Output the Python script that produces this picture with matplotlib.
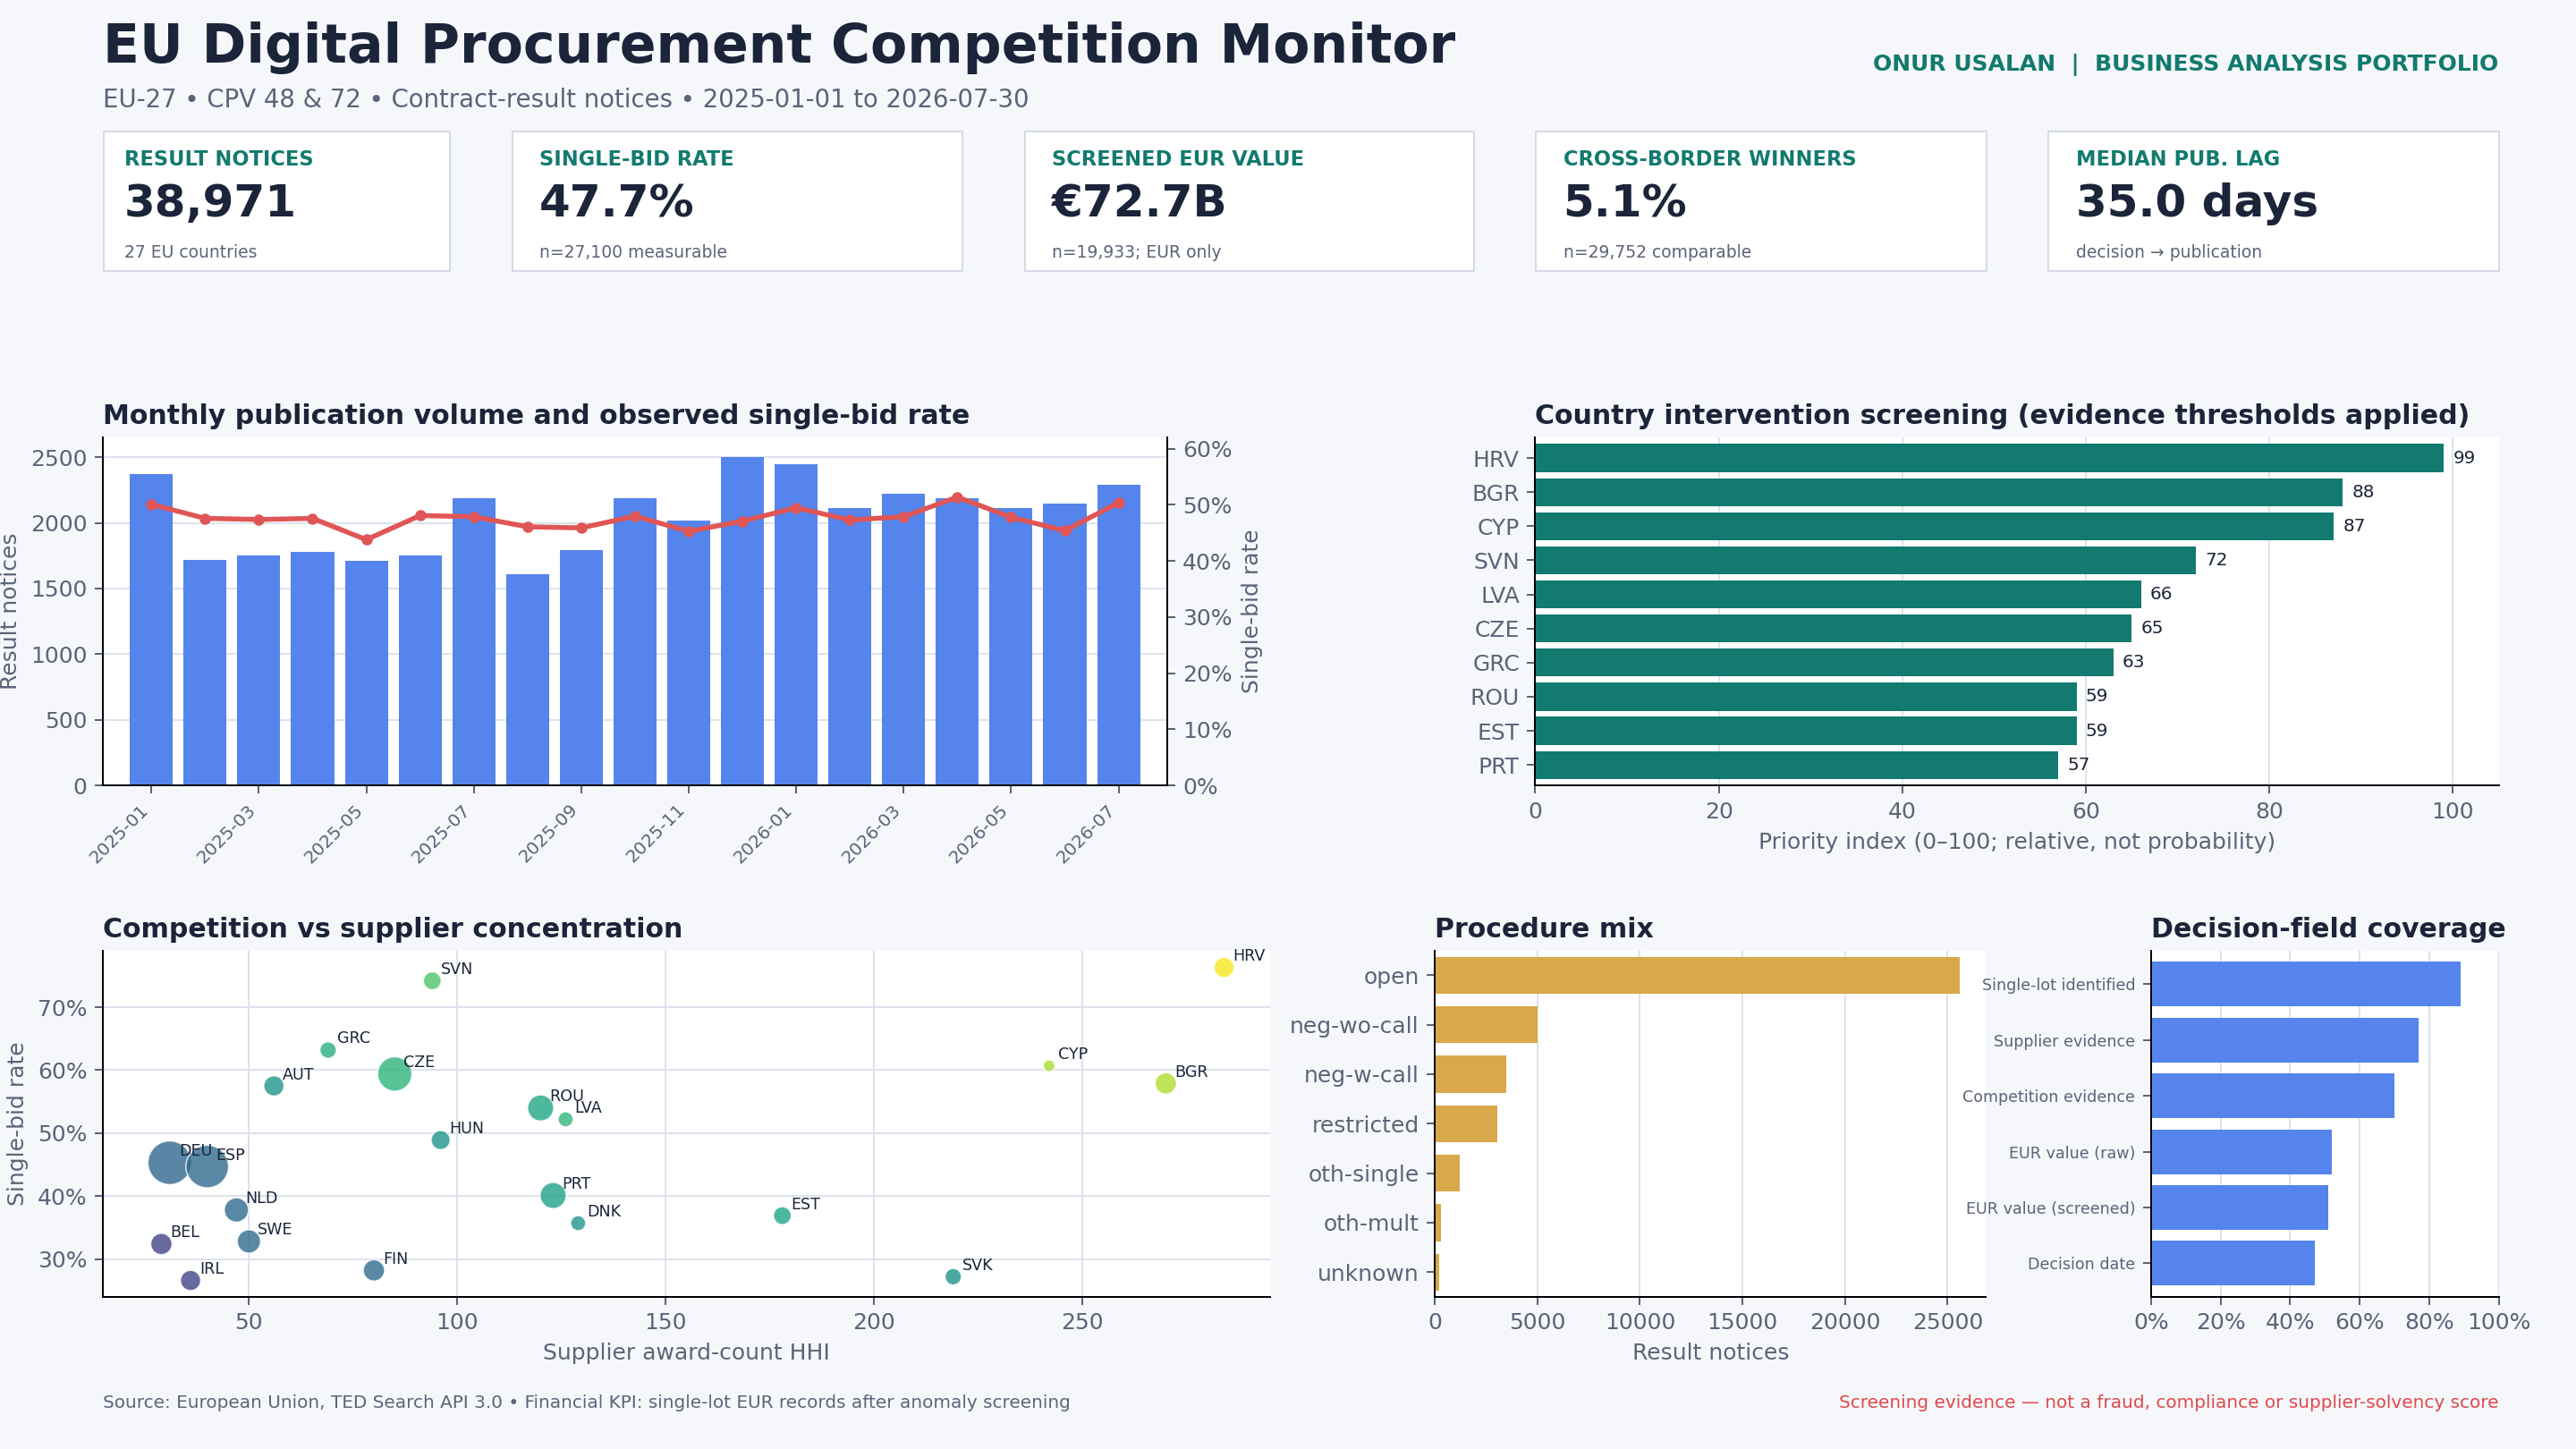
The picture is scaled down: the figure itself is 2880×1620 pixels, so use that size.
import matplotlib
matplotlib.use('Agg')
import matplotlib.pyplot as plt
import matplotlib.ticker as mtick
import numpy as np

plt.rcParams['font.family'] = ['DejaVu Sans']

BG = '#f5f7fb'; NAVY = '#1b2439'; TEAL = '#127a6e'; GREY = '#5b6478'
BLUE = '#5585ec'; RED = '#e05555'; GOLD = '#d9a84a'; GRID = '#dde3ec'

# ---- data ----
months = ['2025-01', '2025-02', '2025-03', '2025-04', '2025-05', '2025-06', '2025-07', '2025-08',
          '2025-09', '2025-10', '2025-11', '2025-12', '2026-01', '2026-02', '2026-03', '2026-04',
          '2026-05', '2026-06', '2026-07']
notices = [2370, 1720, 1750, 1780, 1710, 1750, 2190, 1610, 1790, 2190, 2020, 2500, 2450, 2110,
           2220, 2190, 2110, 2150, 2290]
single_bid = [50.1, 47.6, 47.4, 47.6, 43.8, 48.1, 47.9, 46.1, 45.9, 48.0, 45.3, 47.1, 49.5,
              47.3, 47.9, 51.4, 47.8, 45.4, 50.4]

prio_countries = ['HRV', 'BGR', 'CYP', 'SVN', 'LVA', 'CZE', 'GRC', 'ROU', 'EST', 'PRT']
prio_values = [99, 88, 87, 72, 66, 65, 63, 59, 59, 57]

sc_country = ['SVN', 'HRV', 'GRC', 'CYP', 'CZE', 'AUT', 'BGR', 'ROU', 'LVA', 'HUN', 'DEU',
              'ESP', 'PRT', 'NLD', 'EST', 'DNK', 'BEL', 'SWE', 'FIN', 'IRL', 'SVK']
sc_hhi = [94, 284, 69, 242, 85, 56, 270, 120, 126, 96, 31, 40, 123, 47, 178, 129, 29, 50, 80, 36, 219]
sc_rate = [74.2, 76.3, 63.2, 60.7, 59.4, 57.5, 57.9, 54.0, 52.2, 48.9, 45.3, 44.7, 40.1, 37.8,
           36.9, 35.7, 32.4, 32.8, 28.2, 26.6, 27.2]
sc_notices = [700, 900, 600, 300, 2600, 900, 1000, 1500, 500, 800, 4200, 4000, 1500, 1300,
              700, 500, 1000, 1200, 1000, 900, 600]
sc_priority = [72, 99, 63, 87, 65, 52, 88, 59, 66, 52, 33, 35, 57, 35, 59, 52, 20, 35, 35, 20, 52]

procedures = ['open', 'neg-wo-call', 'neg-w-call', 'restricted', 'oth-single', 'oth-mult', 'unknown']
proc_counts = [25600, 5000, 3500, 3050, 1200, 300, 200]

fields = ['Single-lot identified', 'Supplier evidence', 'Competition evidence', 'EUR value (raw)',
          'EUR value (screened)', 'Decision date']
coverage = [0.89, 0.77, 0.70, 0.52, 0.51, 0.47]

kpi_labels = ['RESULT NOTICES', 'SINGLE-BID RATE', 'SCREENED EUR VALUE', 'CROSS-BORDER WINNERS', 'MEDIAN PUB. LAG']
kpi_values = ['38,971', '47.7%', '€72.7B', '5.1%', '35.0 days']
kpi_notes = ['27 EU countries', 'n=27,100 measurable', 'n=19,933; EUR only', 'n=29,752 comparable',
             'decision → publication']

fig = plt.figure(figsize=(16, 9), dpi=180, facecolor=BG)

fig.text(0.040, 0.967, 'EU Digital Procurement Competition Monitor', fontsize=24, fontweight='bold',
         color=NAVY, va='center')
fig.text(0.040, 0.931, 'EU-27 • CPV 48 & 72 • Contract-result notices • 2025-01-01 to 2026-07-30',
         fontsize=11, color=GREY, va='center')
fig.text(0.970, 0.955, 'ONUR USALAN  |  BUSINESS ANALYSIS PORTFOLIO', fontsize=10, fontweight='bold',
         color=TEAL, ha='right', va='center')

card_x = [(63, 274), (312, 586), (624, 897), (935, 1209), (1247, 1521)]
for (a, b), lab, val, note in zip(card_x, kpi_labels, kpi_values, kpi_notes):
    cax = fig.add_axes([a / 1568, 1 - 165 / 882, (b - a) / 1568, 85 / 882])
    cax.set_facecolor('white')
    cax.set_xticks([]); cax.set_yticks([])
    for s in cax.spines.values():
        s.set_color('#d5dbe5')
    cax.text(0.06, 0.80, lab, transform=cax.transAxes, fontsize=9, fontweight='bold', color=TEAL, va='center')
    cax.text(0.06, 0.48, val, transform=cax.transAxes, fontsize=20, fontweight='bold', color=NAVY, va='center')
    cax.text(0.06, 0.13, note, transform=cax.transAxes, fontsize=7.5, color=GREY, va='center')


def style(ax):
    ax.set_facecolor('white')
    for s in ['top', 'right']:
        ax.spines[s].set_visible(False)
    ax.tick_params(colors=GREY, labelsize=10)
    ax.set_axisbelow(True)


# ---- monthly ----
ax1 = fig.add_axes([0.040, 0.458, 0.413, 0.240])
style(ax1)
x = np.arange(len(months))
ax1.bar(x, notices, color=BLUE, width=0.8)
ax1.set_ylim(0, 2650)
ax1.set_xlim(-0.9, len(months) - 0.1)
ax1.grid(axis='y', color=GRID)
ax1.set_xticks(x[::2])
ax1.set_xticklabels(months[::2], rotation=45, ha='right', fontsize=8)
ax1.set_ylabel('Result notices', color=GREY, fontsize=10)
ax1.set_title('Monthly publication volume and observed single-bid rate', loc='left', fontsize=12,
              fontweight='bold', color=NAVY)
ax1b = ax1.twinx()
ax1b.plot(x, single_bid, color=RED, lw=2.2, marker='o', ms=4)
ax1b.set_ylim(0, 62)
ax1b.yaxis.set_major_formatter(mtick.FuncFormatter(lambda v, p: f'{v:.0f}%'))
ax1b.set_ylabel('Single-bid rate', color=GREY, fontsize=10)
ax1b.tick_params(colors=GREY, labelsize=10)
for s in ['top', 'left']:
    ax1b.spines[s].set_visible(False)

# ---- priority ----
ax2 = fig.add_axes([0.596, 0.458, 0.374, 0.240])
style(ax2)
y = np.arange(len(prio_countries))[::-1]
ax2.barh(y, prio_values, color=TEAL, height=0.82)
for yi, v in zip(y, prio_values):
    ax2.text(v + 1, yi, f'{v}', va='center', fontsize=8, color=NAVY)
ax2.set_yticks(y)
ax2.set_yticklabels(prio_countries)
ax2.set_ylim(-0.6, len(prio_countries) - 0.4)
ax2.set_xlim(0, 105)
ax2.grid(axis='x', color=GRID)
ax2.set_xlabel('Priority index (0–100; relative, not probability)', color=GREY, fontsize=10)
ax2.set_title('Country intervention screening (evidence thresholds applied)', loc='left', fontsize=12,
              fontweight='bold', color=NAVY)

# ---- scatter ----
ax3 = fig.add_axes([0.040, 0.105, 0.453, 0.239])
style(ax3)
ax3.scatter(sc_hhi, sc_rate, s=np.array(sc_notices) / 11, c=sc_priority, cmap='viridis',
            vmin=0, vmax=100, alpha=0.8, edgecolors='white', linewidths=0.6, zorder=3)
for c, xx, yy in zip(sc_country, sc_hhi, sc_rate):
    ax3.annotate(c, (xx, yy), xytext=(4, 3), textcoords='offset points', fontsize=7, color=NAVY, zorder=4)
ax3.set_xlim(15, 295)
ax3.set_ylim(24, 79)
ax3.set_xticks([50, 100, 150, 200, 250])
ax3.set_yticks([30, 40, 50, 60, 70])
ax3.yaxis.set_major_formatter(mtick.FuncFormatter(lambda v, p: f'{v:.0f}%'))
ax3.grid(color=GRID)
ax3.set_xlabel('Supplier award-count HHI', color=GREY, fontsize=10)
ax3.set_ylabel('Single-bid rate', color=GREY, fontsize=10)
ax3.set_title('Competition vs supplier concentration', loc='left', fontsize=12, fontweight='bold', color=NAVY)

# ---- procedure mix ----
ax4 = fig.add_axes([0.557, 0.105, 0.214, 0.239])
style(ax4)
y = np.arange(len(procedures))[::-1]
ax4.barh(y, proc_counts, color=GOLD, height=0.75)
ax4.set_yticks(y)
ax4.set_yticklabels(procedures)
ax4.set_ylim(-0.5, len(procedures) - 0.5)
ax4.grid(axis='x', color=GRID)
ax4.set_xticks([0, 5000, 10000, 15000, 20000, 25000])
ax4.set_xlabel('Result notices', color=GREY, fontsize=10)
ax4.set_title('Procedure mix', loc='left', fontsize=12, fontweight='bold', color=NAVY)

# ---- coverage ----
ax5 = fig.add_axes([0.835, 0.105, 0.135, 0.239])
style(ax5)
y = np.arange(len(fields))[::-1]
ax5.barh(y, coverage, color=BLUE, height=0.8)
ax5.set_yticks(y)
ax5.set_yticklabels(fields, fontsize=7)
ax5.set_ylim(-0.6, len(fields) - 0.4)
ax5.set_xlim(0, 1)
ax5.xaxis.set_major_formatter(mtick.PercentFormatter(1.0, decimals=0))
ax5.grid(axis='x', color=GRID)
ax5.set_title('Decision-field coverage', loc='left', fontsize=12, fontweight='bold', color=NAVY)

fig.text(0.040, 0.032, 'Source: European Union, TED Search API 3.0 • Financial KPI: single-lot EUR records after anomaly screening',
         fontsize=8, color=GREY, va='center')
fig.text(0.970, 0.032, 'Screening evidence — not a fraud, compliance or supplier-solvency score',
         fontsize=8, color='#e04848', ha='right', va='center')

fig.savefig('out.png', dpi=180, facecolor=BG)
